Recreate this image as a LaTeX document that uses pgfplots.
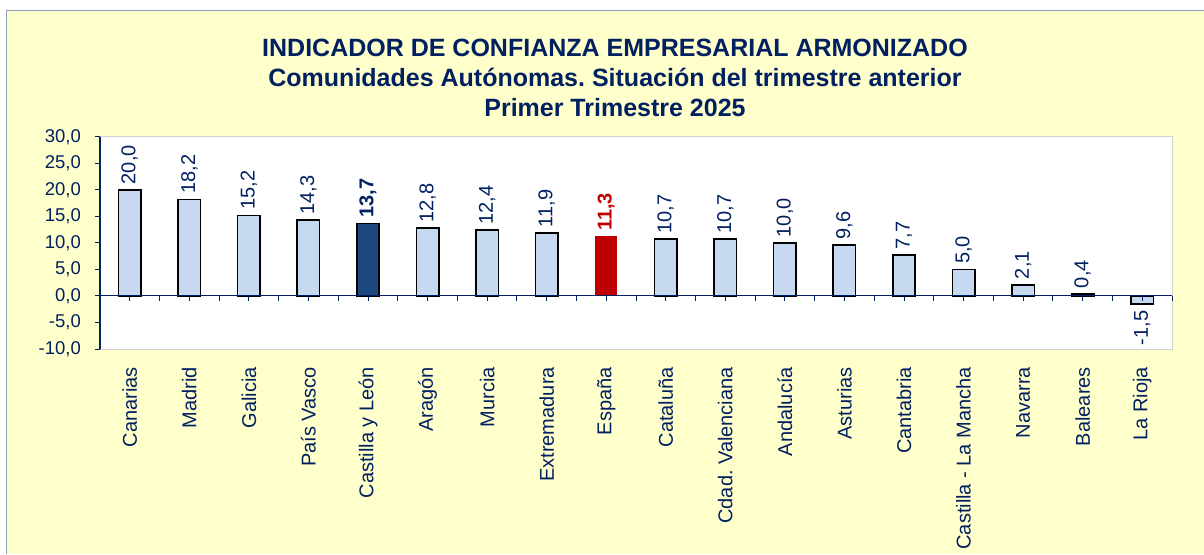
\documentclass[border=0pt]{standalone}
\usepackage{fontspec}
\setmainfont{Liberation Sans}
\usepackage{pgfplots}
\pgfplotsset{compat=1.18}
\frenchspacing

\definecolor{navy}{RGB}{0,32,96}
\definecolor{fondo}{RGB}{255,255,204}
\definecolor{marco}{RGB}{140,160,190}
\definecolor{barclara}{RGB}{198,217,241}
\definecolor{baroscura}{RGB}{31,73,125}
\definecolor{barroja}{RGB}{192,0,0}

\begin{document}
\begin{tikzpicture}[x=1pt,y=1pt]
\useasboundingbox (0,0) rectangle (1204,554);
\fill[white] (0,0) rectangle (1204,554);
\fill[fondo] (6.5,0) rectangle (1204,543.5);
\draw[marco, line width=1pt] (6.5,0) -- (6.5,543.5) -- (1204,543.5);

% titulo
\node[anchor=base, font=\fontsize{25}{30}\selectfont\bfseries, text=navy] at (615,497) {INDICADOR DE CONFIANZA EMPRESARIAL ARMONIZADO};
\node[anchor=base, font=\fontsize{25}{30}\selectfont\bfseries, text=navy] at (615,467) {Comunidades Autónomas. Situación del trimestre anterior};
\node[anchor=base, font=\fontsize{25}{30}\selectfont\bfseries, text=navy] at (615,437) {Primer Trimestre 2025};

\begin{axis}[
  at={(100pt,205pt)}, anchor=south west,
  scale only axis, width=1072pt, height=212pt,
  xmin=-0.5, xmax=17.5, ymin=-10, ymax=30,
  ybar, bar width=22.5pt, bar shift=0pt,
  axis background/.style={fill=white},
  axis line style={draw=black!18, line width=1pt},
  xtick={0,...,17},
  xticklabels={Canarias, Madrid, Galicia, País Vasco, Castilla y León, Aragón, Murcia, Extremadura, España, Cataluña, Cdad. Valenciana, Andalucía, Asturias, Cantabria, Castilla - La Mancha, Navarra, Baleares, La Rioja},
  x tick style={draw=none},
  xticklabel style={rotate=90, anchor=east, inner sep=0pt, font=\fontsize{20}{24}\selectfont, text=navy},
  xticklabel shift=13pt,
  ytick={-10,-5,...,30},
  ytick pos=left, tick align=outside, major tick length=5pt,
  y tick style={navy, line width=1pt},
  yticklabel style={anchor=east, inner sep=0pt, font=\fontsize{18.5}{22}\selectfont, text=navy},
  yticklabel shift=14pt,
  /pgf/number format/fixed,
  /pgf/number format/fixed zerofill,
  /pgf/number format/precision=1,
  /pgf/number format/use comma,
  /pgf/number format/assume math mode=true,
  clip=false,
]
% comunidades
\addplot[fill=barclara, draw=black, line width=1.6pt, nodes near coords,
  every node near coord/.append style={rotate=90, anchor=west, inner sep=5pt, font=\fontsize{20}{24}\selectfont, text=navy}]
  coordinates {(0,20.0) (1,18.2) (2,15.2) (3,14.3) (5,12.8) (6,12.4) (7,11.9) (9,10.7) (10,10.7) (11,10.0) (12,9.6) (13,7.7) (14,5.0) (15,2.1) (16,0.4)};
% Castilla y Leon
\addplot[fill=baroscura, draw=black, line width=1.6pt, nodes near coords,
  every node near coord/.append style={rotate=90, anchor=west, inner sep=5pt, font=\fontsize{20}{24}\selectfont\bfseries, text=navy}]
  coordinates {(4,13.7)};
% Espana
\addplot[fill=barroja, draw=none, nodes near coords,
  every node near coord/.append style={rotate=90, anchor=west, inner sep=5pt, font=\fontsize{20}{24}\selectfont\bfseries, text=barroja}]
  coordinates {(8,11.3)};
% La Rioja
\addplot[fill=barclara, draw=black, line width=1.6pt, nodes near coords,
  every node near coord/.append style={rotate=90, anchor=east, inner sep=6pt, font=\fontsize{20}{24}\selectfont, text=navy}]
  coordinates {(17,-1.5)};

% eje cero y marcas
\draw[navy, line width=1pt] (axis cs:-0.5,0) -- (axis cs:17.5,0);
\draw[navy, line width=1pt] (axis cs:-0.5,0) -- ++(0pt,-5pt);
\pgfplotsinvokeforeach{0,...,17}{
  \draw[navy, line width=1pt] (axis cs:#1,0) -- ++(0pt,-5pt);
  \draw[navy, line width=1pt] (axis cs:#1.5,0) -- ++(0pt,-5pt);
}
\draw[navy, line width=1.2pt] (rel axis cs:0,0) -- (rel axis cs:0,1);
\end{axis}
\end{tikzpicture}
\end{document}
